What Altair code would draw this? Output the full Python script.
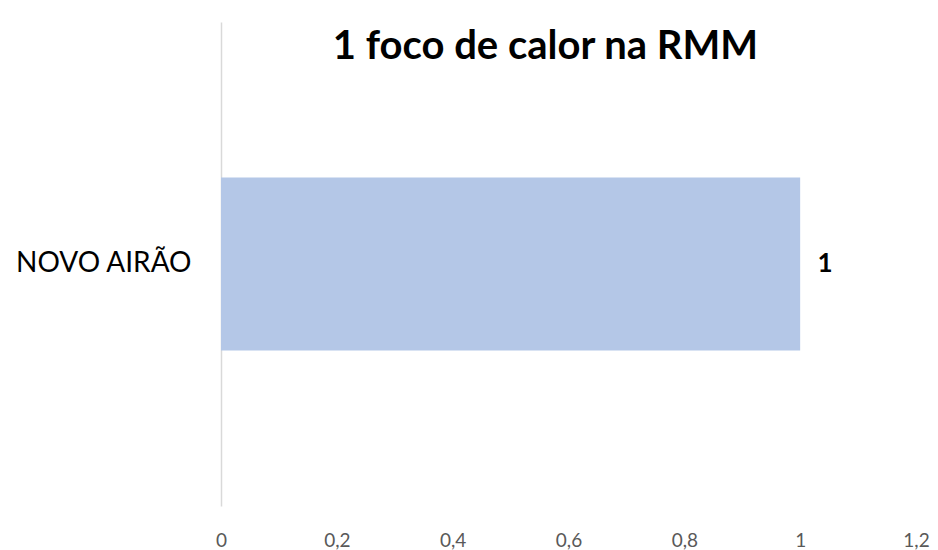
import altair as alt
import pandas as pd

categories = ["NOVO AIRÃO"]
values = [1]
x_ticks = [0, 0.2, 0.4, 0.6, 0.8, 1.0, 1.2]
title_text = "1 foco de calor na RMM"

df = pd.DataFrame({"municipio": categories, "focos": values})

FONT = "Lato"

base = alt.Chart(df)

bars = base.mark_bar(color="#B4C7E7", size=173).encode(
    x=alt.X(
        "focos:Q",
        scale=alt.Scale(domain=[0, 1.2], nice=False),
        axis=alt.Axis(
            values=x_ticks,
            title=None,
            grid=False,
            domain=False,
            ticks=False,
            labelFlush=False,
            labelPadding=25,
            labelFontSize=19,
            labelColor="#595959",
            labelFont=FONT,
            labelExpr="replace(format(datum.value, '.1~f'), '.', ',')",
        ),
    ),
    y=alt.Y(
        "municipio:N",
        title=None,
        axis=alt.Axis(
            domainColor="#D9D9D9",
            domainWidth=1.5,
            ticks=False,
            labelPadding=30,
            labelFontSize=28,
            labelColor="#000000",
            labelFont=FONT,
            labelFontWeight="normal",
        ),
    ),
)

labels = base.mark_text(
    align="center", baseline="middle", dx=25, fontSize=26, fontWeight="bold", font=FONT, color="#000000"
).encode(
    x="focos:Q",
    y="municipio:N",
    text="focos:Q",
)

chart = (
    (bars + labels)
    .properties(
        width=695,
        height=484,
        autosize=alt.AutoSizeParams(type="none"),
        padding={"left": 213, "top": 14, "right": 14, "bottom": 44},
        title=alt.TitleParams(
            title_text,
            anchor="middle",
            orient="top",
            offset=-45,
            dx=-23,
            fontSize=40,
            fontWeight="bold",
            font=FONT,
            color="#000000",
        ),
    )
    .configure_view(stroke=None)
)

chart.save("out.html", embed_options={"renderer": "svg", "actions": False})
